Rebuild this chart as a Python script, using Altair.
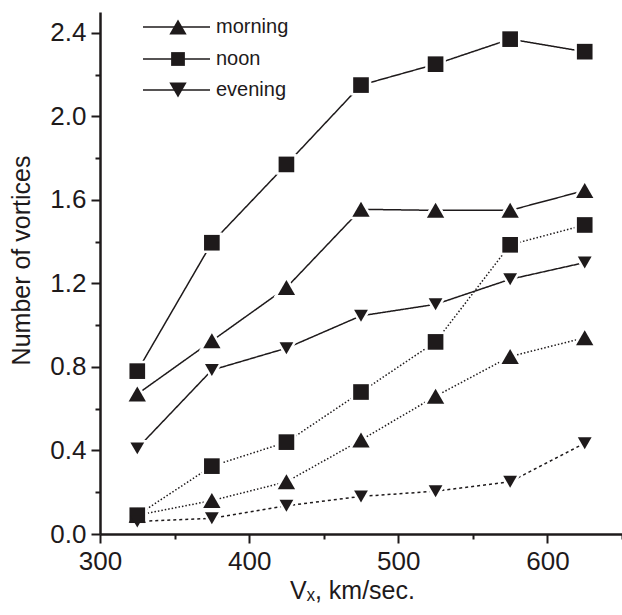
import altair as alt
import pandas as pd

# ---- data ----
vx = [325, 375, 425, 475, 525, 575, 625]

morning_solid = [0.67, 0.925, 1.18, 1.555, 1.55, 1.55, 1.645]
noon_solid = [0.78, 1.395, 1.77, 2.15, 2.25, 2.37, 2.31]
evening_solid = [0.41, 0.785, 0.89, 1.045, 1.10, 1.22, 1.30]

morning_dotted = [0.09, 0.16, 0.25, 0.45, 0.66, 0.85, 0.94]
noon_dotted = [0.09, 0.325, 0.44, 0.68, 0.92, 1.385, 1.48]
evening_dotted = [0.06, 0.075, 0.135, 0.18, 0.205, 0.25, 0.435]

periods = ["morning", "noon", "evening"]
shapes = ["triangle-up", "square", "triangle-down"]
sizes = [300, 190, 300]

series = {
    ("morning", "solid"): morning_solid,
    ("noon", "solid"): noon_solid,
    ("evening", "solid"): evening_solid,
    ("morning", "dotted"): morning_dotted,
    ("noon", "dotted"): noon_dotted,
    ("evening", "dotted"): evening_dotted,
}

rows = []
for (period, kind), vals in series.items():
    for x, y in zip(vx, vals):
        rows.append({"vx": x, "n": y, "period": period, "sid": f"{period}-{kind}"})
df = pd.DataFrame(rows)

ink = "#1e1a1b"
font = "Liberation Sans"

sids = [f"{p}-{k}" for k in ["solid", "dotted"] for p in periods]
dashes = [[1, 0], [1, 0], [1, 0], [1.5, 2], [1.5, 2], [3, 3]]

x_vals = [300, 350, 400, 450, 500, 550, 600, 650]
y_vals = [0.0, 0.2, 0.4, 0.6, 0.8, 1.0, 1.2, 1.4, 1.6, 1.8, 2.0, 2.2, 2.4]

x_enc = alt.X(
    "vx:Q",
    scale=alt.Scale(domain=[300, 650], nice=False, zero=False),
    axis=alt.Axis(
        values=x_vals,
        labelExpr="datum.value % 100 == 0 ? datum.label : ''",
        tickSize={"condition": {"test": "datum.value % 100 == 0", "value": 9}, "value": 5},
        labelFlush=False,
        title="Vₓ, km/sec.",
        titleX=252,
        grid=False,
    ),
)
y_enc = alt.Y(
    "n:Q",
    scale=alt.Scale(domain=[0, 2.5], nice=False),
    axis=alt.Axis(
        values=y_vals,
        format=".1f",
        labelExpr="round(datum.value * 10) % 4 == 0 ? datum.label : ''",
        tickSize={"condition": {"test": "round(datum.value * 10) % 4 == 0", "value": 9}, "value": 5},
        labelFlush=False,
        title="Number of vortices",
        titleY=248,
        grid=False,
    ),
)

base = alt.Chart(df)

lines = base.mark_line(color=ink, strokeWidth=1.5).encode(
    x=x_enc,
    y=y_enc,
    detail="sid:N",
    strokeDash=alt.StrokeDash("sid:N", scale=alt.Scale(domain=sids, range=dashes), legend=None),
)

shape_enc = alt.Shape("period:N", scale=alt.Scale(domain=periods, range=shapes), legend=None)
size_enc = alt.Size("period:N", scale=alt.Scale(domain=periods, range=sizes), legend=None)

halo = base.mark_point(filled=True, color="white", stroke="white", strokeWidth=5, opacity=1).encode(
    x="vx:Q", y="n:Q", shape=shape_enc, size=size_enc
)
pts = base.mark_point(filled=True, color=ink, opacity=1).encode(
    x="vx:Q", y="n:Q", shape=shape_enc, size=size_enc
)

# ---- hand-made legend ----
leg_y = [15, 47, 78]
legend_layers = []
for name, shp, sz, yy in zip(periods, shapes, sizes, leg_y):
    d = pd.DataFrame({"label": [name]})
    c = alt.Chart(d)
    legend_layers.append(
        c.mark_rule(color=ink, strokeWidth=1.3).encode(
            x=alt.value(43), x2=alt.value(110), y=alt.value(yy)
        )
    )
    legend_layers.append(
        c.mark_point(filled=True, color=ink, opacity=1, size=sz, shape=shp).encode(
            x=alt.value(78), y=alt.value(yy)
        )
    )
    legend_layers.append(
        c.mark_text(align="left", baseline="middle", font=font, fontSize=20, color=ink).encode(
            x=alt.value(116), y=alt.value(yy), text="label:N"
        )
    )

chart = alt.layer(lines, halo, pts, *legend_layers).properties(
    width=522,
    height=522,
    autosize=alt.AutoSizeParams(type="none"),
    padding={"left": 100, "top": 12, "right": 0, "bottom": 81},
    background="white",
).configure_view(stroke=None).configure_axis(
    domainColor=ink,
    domainWidth=2.5,
    tickColor=ink,
    tickWidth=2,
    labelFont=font,
    labelFontSize=26,
    labelColor=ink,
    titleFont=font,
    titleFontSize=25,
    titleFontWeight="normal",
    titleColor=ink,
    labelPadding=5,
).configure_axisY(titlePadding=15).configure_axisX(titlePadding=4)

chart.save("out.html", embed_options={"renderer": "svg", "actions": False})
